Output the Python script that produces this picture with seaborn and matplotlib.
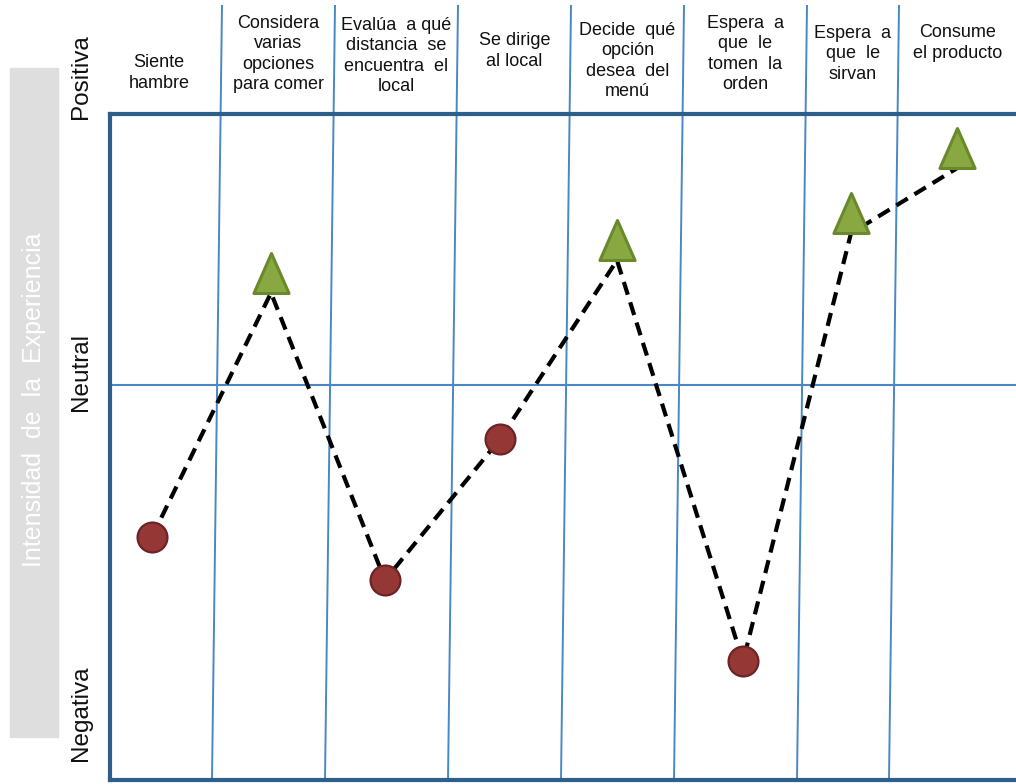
import matplotlib
matplotlib.use("Agg")
import matplotlib.pyplot as plt
from matplotlib.path import Path
from matplotlib.markers import MarkerStyle
from matplotlib.patches import Rectangle
import pandas as pd
import seaborn as sns

# Journey steps (column headers)
steps = [
    "Siente\nhambre",
    "Considera\nvarias\nopciones\npara comer",
    "Evalúa  a qué\ndistancia  se\nencuentra  el\nlocal",
    "Se dirige\nal local",
    "Decide  qué\nopción\ndesea  del\nmenú",
    "Espera  a\nque  le\ntomen  la\norden",
    "Espera  a\nque  le\nsirvan",
    "Consume\nel producto",
]
# Position of each step along the journey and the intensity of the experience
step_x = [0.42, 1.61, 2.75, 3.90, 5.07, 6.33, 7.41, 8.47]
intensity = [-2.8, 1.7, -3.6, -1.0, 2.3, -5.1, 2.8, 4.0]
level_labels = ["Positiva", "Neutral", "Negativa"]
axis_title = "Intensidad  de  la  Experiencia"

df = pd.DataFrame({"paso": steps, "x": step_x, "intensidad": intensity})
df["tipo"] = ["positiva" if v > 0 else "negativa" for v in df["intensidad"]]

W, H = 1016, 784
sns.set_theme(style="white")
plt.rcParams["font.family"] = ["Liberation Sans", "DejaVu Sans"]

fig = plt.figure(figsize=(W / 100, H / 100), dpi=100)
fig.patch.set_facecolor("white")

# plot area in pixels: left spine 110, top 114, bottom 780
X0, Y_TOP, Y_BOT = 110, 114, 780
PX_PER_UNIT = 54.2
Y_NEUTRAL = 385
ax = fig.add_axes([X0 / W, (H - Y_BOT) / H, (W - X0) / W, (Y_BOT - Y_TOP) / H])
ymax = (Y_NEUTRAL - Y_TOP) / PX_PER_UNIT
ymin = (Y_NEUTRAL - Y_BOT) / PX_PER_UNIT
ax.set_xlim(0, (W - X0) / 100)
ax.set_ylim(ymin, ymax)


def xd(px):
    return (px - X0) / 100


def yd(py):
    return (Y_NEUTRAL - py) / PX_PER_UNIT


frame = "#2C5F8C"
grid = "#4A87C6"
for side in ["left", "top", "bottom"]:
    ax.spines[side].set_color(frame)
    ax.spines[side].set_linewidth(3.0)
    ax.spines[side].set_zorder(5)
ax.spines["right"].set_visible(False)
ax.set_xticks([])
ax.set_yticks([])
ax.set_xlabel("")
ax.set_ylabel("")

# neutral reference line
ax.axhline(0, color=grid, lw=1.5, zorder=1)

# column dividers, running up through the header band
divider_top = [222, 335, 458, 571, 684, 807, 899]
for t in divider_top:
    ax.plot([xd(t), xd(t - 10)], [yd(5), ymin], color=grid, lw=1.4,
            clip_on=False, zorder=1, solid_capstyle="butt")

# column headers
header_bounds = [96] + divider_top + [W]
header_y = [73, 54, 56, 51, 61, 54, 54, 43]
for i, label in enumerate(df["paso"]):
    cx = (header_bounds[i] + header_bounds[i + 1]) / 2
    ax.text(xd(cx), yd(header_y[i]), label, ha="center", va="center",
            fontsize=13, color="#111111", linespacing=1.27, clip_on=False)

# experience path
sns.lineplot(data=df, x="x", y="intensidad", sort=False, ax=ax, color="black",
             lw=3, linestyle=(0, (3.2, 1.9)), zorder=2)

# triangle sitting on its point (base at the value)
tri = MarkerStyle(Path([(-0.44, 0), (0.44, 0), (0, 1), (-0.44, 0)],
                       [Path.MOVETO, Path.LINETO, Path.LINETO, Path.CLOSEPOLY]))
sns.scatterplot(data=df[df["tipo"] == "positiva"], x="x", y="intensidad",
                marker=tri, s=57.6 ** 2, color="#8AA842", edgecolor="#688A2C",
                linewidth=2.2, ax=ax, zorder=4, legend=False)
sns.scatterplot(data=df[df["tipo"] == "negativa"], x="x", y="intensidad",
                marker="o", s=21.5 ** 2, color="#953735", edgecolor="#6C2427",
                linewidth=1.6, ax=ax, zorder=4, legend=False)
ax.set_xlabel("")
ax.set_ylabel("")

# level labels on the left
for label, py in zip(level_labels, [77, 372, 713]):
    ax.text(xd(81), yd(py), label, rotation=90, ha="center", va="center",
            fontsize=17.5, color="#111111", clip_on=False)

# grey band with the axis title
fig.patches.append(Rectangle((10 / W, (H - 737) / H), 48 / W, 669 / H,
                             transform=fig.transFigure, color="#DEDEDE", zorder=0))
fig.text(34 / W, 1 - 400 / H, axis_title, rotation=90, ha="center", va="center",
         fontsize=18, color="white")

fig.savefig("out.png", dpi=100, facecolor="white")
